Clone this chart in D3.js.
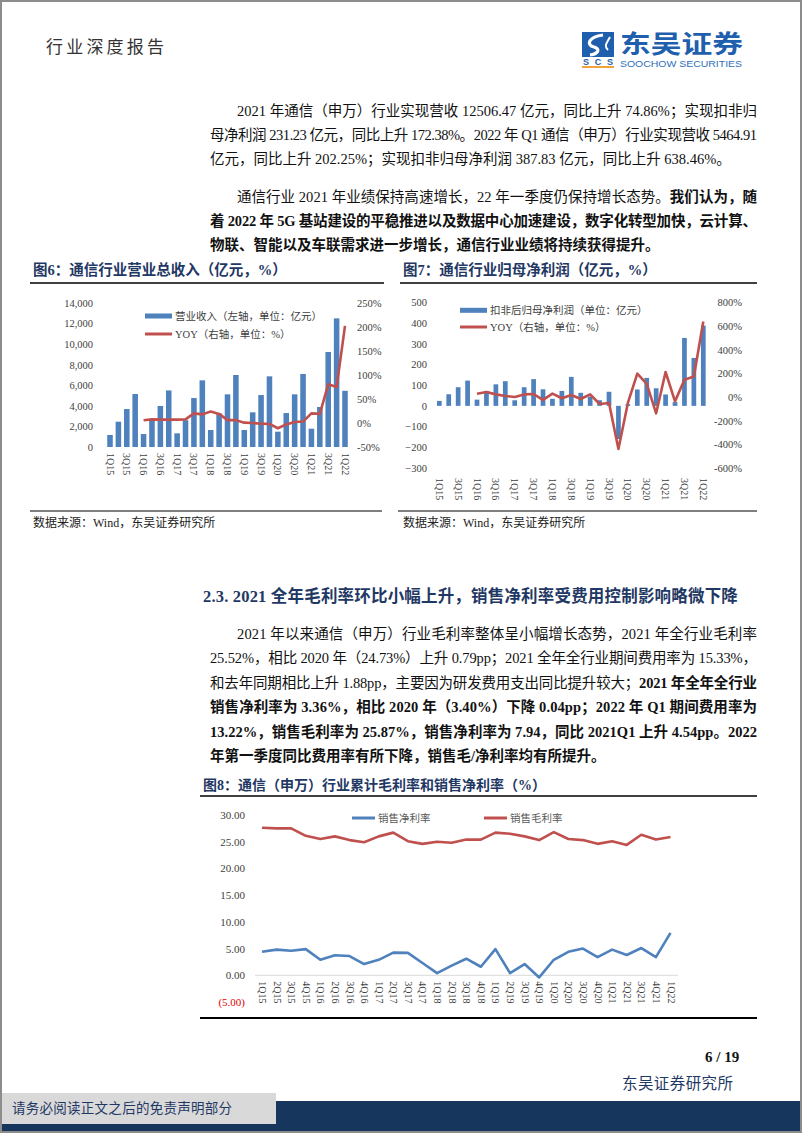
<!DOCTYPE html>
<html><head><meta charset="utf-8">
<script src="https://cdn.jsdelivr.net/npm/d3@7"></script>
<style>html,body{margin:0;padding:0;background:#fff}svg{display:block}</style>
</head><body>
<svg id="page" width="802" height="1133"></svg>
<script>
// ---------------- DATA ----------------
const quarters = ["1Q15","2Q15","3Q15","4Q15","1Q16","2Q16","3Q16","4Q16","1Q17","2Q17","3Q17","4Q17",
  "1Q18","2Q18","3Q18","4Q18","1Q19","2Q19","3Q19","4Q19","1Q20","2Q20","3Q20","4Q20",
  "1Q21","2Q21","3Q21","4Q21","1Q22"];
const sparseQuarterLabels = ["1Q15","3Q15","1Q16","3Q16","1Q17","3Q17","1Q18","3Q18","1Q19","3Q19","1Q20","3Q20","1Q21","3Q21","1Q22"];
// Fig 6: revenue (亿元) and YoY (%)
const revenue = [1170,2460,3690,5150,1260,2600,3990,5500,1330,2600,4760,6480,1650,3270,5120,7000,
  1650,3370,5050,6870,1490,3300,5120,7100,1780,3890,9240,12506.47,5464.91];
const revenueYoy = [null,null,null,null,5.6,7.6,7,7,7,7.6,20,18,24,19,6,6,0.7,0,-1.4,-2,-11,-3,2,3,20,19,80.5,74.86,202.25];
const fig6LeftTicks = [0,2000,4000,6000,8000,10000,12000,14000];
const fig6RightTicks = [-50,0,50,100,150,200,250];
// Fig 7: net profit (亿元) and YoY (%)
const profit = [24,56,90,122,30,72,104,119,27,90,129,80,34,72,140,63,45,27,68,-160,8,79,135,85,55,18,328,231.23,387.83];
const profitYoy = [null,null,null,null,28,42,22,8,0,22,25,-25,28,-11,17,-17,22,-59,-51,-439,-50,197,110,-138,211,-37,146,172.38,638.46];
const fig7LeftTicks = [-300,-200,-100,0,100,200,300,400,500];
const fig7RightTicks = [-600,-400,-200,0,200,400,600,800];
// Fig 8: margins (%)
const netMargin = [4.4,4.8,4.6,4.9,2.9,3.75,3.6,2.1,2.9,4.25,4.2,2.3,0.4,1.8,3.1,1.6,4.9,0.4,2.1,-0.4,2.9,4.4,5.0,3.4,4.8,3.8,5.1,3.4,7.94];
const grossMargin = [27.6,27.5,27.5,26.1,25.5,26.0,25.3,24.9,26.0,26.7,25.1,24.6,25.0,24.8,25.4,25.4,26.7,26.5,26.0,25.3,26.8,25.5,25.3,24.6,25.1,24.4,26.3,25.4,25.87];
const fig8Ticks = [-5,0,5,10,15,20,25,30];

// Text content
const para1 = [
  [["2021 年通信（申万）行业实现营收 12506.47 亿元，同比上升 74.86%；实现扣非归",0]],
  [["母净利润 231.23 亿元，同比上升 172.38%。2022 年 Q1 通信（申万）行业实现营收 5464.91",0]],
  [["亿元，同比上升 202.25%；实现扣非归母净利润 387.83 亿元，同比上升 638.46%。",0]]
];
const para2 = [
  [["通信行业 2021 年业绩保持高速增长，22 年一季度仍保持增长态势。",0],["我们认为，随",1]],
  [["着 2022 年 5G 基站建设的平稳推进以及数据中心加速建设，数字化转型加快，云计算、",1]],
  [["物联、智能以及车联需求进一步增长，通信行业业绩将持续获得提升。",1]]
];
const heading23 = "2.3.  2021 全年毛利率环比小幅上升，销售净利率受费用控制影响略微下降";
const para3 = [
  [["2021 年以来通信（申万）行业毛利率整体呈小幅增长态势，2021 年全行业毛利率",0]],
  [["25.52%，相比 2020 年（24.73%）上升 0.79pp；2021 全年全行业期间费用率为 15.33%，",0]],
  [["和去年同期相比上升 1.88pp，主要因为研发费用支出同比提升较大；",0],["2021 年全年全行业",1]],
  [["销售净利率为 3.36%，相比 2020 年（3.40%）下降 0.04pp；2022 年 Q1 期间费用率为",1]],
  [["13.22%，销售毛利率为 25.87%，销售净利率为 7.94，同比 2021Q1 上升 4.54pp。2022",1]],
  [["年第一季度同比费用率有所下降，销售毛/净利率均有所提升。",1]]
];

// ---------------- DRAW ----------------
const FONT = "'Liberation Serif','Noto Sans CJK SC',serif";
const NAVY = "#1f3864";
const BLUE = "#4f81bd";
const RED = "#c0504d";
const AXIS = "#404040";
const svg = d3.select("#page");

function textLine(x, y, segs, o) {
  const t = svg.append("text").attr("x", x).attr("y", y).attr("dy", "0.35em")
    .attr("font-family", o.family || FONT).attr("font-size", o.size)
    .attr("fill", o.color || "#111");
  segs.forEach(s => t.append("tspan").text(s[0]).attr("font-weight", s[1] ? "bold" : null));
  if (o.right) {
    const w = t.node().getComputedTextLength();
    const n = segs.map(s => s[0]).join("").length;
    t.style("letter-spacing", ((o.right - x - w) / (n - 1)) + "px");
  }
  if (o.bold) t.attr("font-weight", "bold");
  return t;
}
function hline(x1, x2, y, w, c) {
  svg.append("line").attr("x1", x1).attr("x2", x2).attr("y1", y).attr("y2", y)
    .attr("stroke", c || "#000").attr("stroke-width", w);
}

// Header
textLine(46, 47, [["行业深度报告",0]], {size: 17, right: 164, color: "#333"});
// Logo
const logo = svg.append("g");
logo.append("rect").attr("x", 582).attr("y", 32).attr("width", 32).attr("height", 25).attr("fill", "#1f5fae");
logo.append("path").attr("d", "M603,35 C588,37 586,45 594,47 C601,49 598,54 590,55")
  .attr("fill", "none").attr("stroke", "#fff").attr("stroke-width", 3.2);
logo.append("path").attr("d", "M610,37 C606,44 604,46 608,50")
  .attr("fill", "none").attr("stroke", "#fff").attr("stroke-width", 2);
logo.append("text").attr("x", 598).attr("y", 64.5).attr("text-anchor", "middle")
  .attr("font-family", "'Liberation Sans',sans-serif").attr("font-weight", "bold").attr("font-size", 9)
  .attr("fill", "#1f5fae").attr("textLength", 30).text("SCS");
logo.append("rect").attr("x", 582).attr("y", 66).attr("width", 32).attr("height", 2).attr("fill", "#f2a43a");
logo.append("text").attr("x", 620).attr("y", 53).attr("font-family", "'Noto Sans CJK SC',sans-serif")
  .attr("font-weight", "bold").attr("font-size", 25).attr("fill", "#1f5fae")
  .attr("textLength", 123).attr("lengthAdjust", "spacingAndGlyphs").text("东吴证券");
logo.append("text").attr("x", 620).attr("y", 67).attr("font-family", "'Liberation Sans',sans-serif")
  .attr("font-size", 9.5).attr("fill", "#2f6fba")
  .attr("textLength", 122).attr("lengthAdjust", "spacingAndGlyphs").text("SOOCHOW SECURITIES");

// Paragraphs
const BODY = 14.5, RIGHT = 757;
function paragraph(lines, y0, dy) {
  lines.forEach((segs, i) => {
    const x = i === 0 ? 237 : 210;
    const last = i === lines.length - 1;
    textLine(x, y0 + i * dy, segs, {size: BODY, right: last ? null : RIGHT});
  });
}
paragraph(para1, 111, 24);
paragraph(para2, 197, 24);
textLine(203, 596, [[heading23,1]], {size: 16.5, right: 738, color: NAVY});
paragraph(para3, 634, 24.4);

// Figure titles
textLine(33, 270, [["图6：通信行业营业总收入（亿元，%）",1]], {size: 14.5, color: NAVY});
textLine(403, 270, [["图7：通信行业归母净利润（亿元，%）",1]], {size: 14.5, color: NAVY});
hline(30, 384, 283, 1.5);
hline(400, 757, 283, 1.5);
hline(30, 382, 511, 1.2);
hline(398, 757, 511, 1.2);
textLine(33, 523, [["数据来源：Wind，东吴证券研究所",0]], {size: 12, color: "#222"});
textLine(403, 523, [["数据来源：Wind，东吴证券研究所",0]], {size: 12, color: "#222"});

function styleAxis(g, size) {
  g.attr("font-family", FONT).attr("font-size", size).attr("color", AXIS);
  g.select(".domain").remove();
  g.selectAll("line").remove();
}
function rotateTicks(g, off) {
  g.selectAll("text").attr("y", 0).attr("x", off).attr("dy", "0.35em")
    .attr("transform", "rotate(90)").attr("text-anchor", "start");
}

// ---- Figure 6 ----
{
  const y0 = 447, y1 = 303;
  const yL = d3.scaleLinear().domain([0, 14000]).range([y0, y1]);
  const yR = d3.scaleLinear().domain([-50, 250]).range([y0, y1]);
  const step = (345 - 110) / 28;
  const x = d3.scaleBand().domain(quarters).range([110 - step / 2, 345 + step / 2]).paddingInner(0.34).paddingOuter(0.17);
  const cx = q => x(q) + x.bandwidth() / 2;
  svg.append("g").selectAll("rect").data(revenue).join("rect")
    .attr("x", (d, i) => x(quarters[i])).attr("width", x.bandwidth())
    .attr("y", d => yL(d)).attr("height", d => yL(0) - yL(d)).attr("fill", BLUE);
  const ln = d3.line().defined(d => d.v != null).x(d => cx(d.q)).y(d => yR(d.v));
  svg.append("path").datum(quarters.map((q, i) => ({q, v: revenueYoy[i]})))
    .attr("d", ln).attr("fill", "none").attr("stroke", RED).attr("stroke-width", 2.6).attr("stroke-linejoin", "round");
  const gl = svg.append("g").attr("transform", "translate(95,0)")
    .call(d3.axisLeft(yL).tickValues(fig6LeftTicks).tickSize(0).tickPadding(2).tickFormat(d3.format(",")));
  styleAxis(gl, 10.5);
  const gr = svg.append("g").attr("transform", "translate(357,0)")
    .call(d3.axisRight(yR).tickValues(fig6RightTicks).tickSize(0).tickPadding(0).tickFormat(d => d + "%"));
  styleAxis(gr, 10.5);
  const gx = svg.append("g").attr("transform", `translate(0,${y0})`)
    .call(d3.axisBottom(x).tickValues(sparseQuarterLabels).tickSize(0));
  styleAxis(gx, 10);
  rotateTicks(gx, 6);
  // legend
  svg.append("rect").attr("x", 145).attr("y", 313.5).attr("width", 27).attr("height", 5).attr("fill", BLUE);
  textLine(175, 316, [["营业收入（左轴，单位：亿元）",0]], {size: 10.5, color: AXIS});
  hline(145, 172, 334, 3, RED);
  textLine(175, 334, [["YOY（右轴，单位：%）",0]], {size: 10.5, color: AXIS});
}

// ---- Figure 7 ----
{
  const yL = d3.scaleLinear().domain([-300, 500]).range([468, 302.3]);
  const yR = d3.scaleLinear().domain([-600, 800]).range([468, 302.3]);
  const a = 439.3, b = 703.3, step = (b - a) / 28;
  const x = d3.scaleBand().domain(quarters).range([a - step / 2, b + step / 2]).paddingInner(0.5).paddingOuter(0.25);
  const cx = q => x(q) + x.bandwidth() / 2;
  svg.append("g").selectAll("rect").data(profit).join("rect")
    .attr("x", (d, i) => x(quarters[i])).attr("width", x.bandwidth())
    .attr("y", d => yL(Math.max(0, d))).attr("height", d => Math.abs(yL(d) - yL(0))).attr("fill", BLUE);
  const ln = d3.line().defined(d => d.v != null).x(d => cx(d.q)).y(d => yR(d.v));
  svg.append("path").datum(quarters.map((q, i) => ({q, v: profitYoy[i]})))
    .attr("d", ln).attr("fill", "none").attr("stroke", RED).attr("stroke-width", 2.6).attr("stroke-linejoin", "round");
  const gl = svg.append("g").attr("transform", "translate(429,0)")
    .call(d3.axisLeft(yL).tickValues(fig7LeftTicks).tickSize(0).tickPadding(2));
  styleAxis(gl, 10.5);
  const gr = svg.append("g").attr("transform", "translate(742,0)")
    .call(d3.axisLeft(yR).tickValues(fig7RightTicks).tickSize(0).tickPadding(0).tickFormat(d => d + "%"));
  styleAxis(gr, 10.5);
  const gx = svg.append("g").attr("transform", `translate(0,${yL(-300)})`)
    .call(d3.axisBottom(x).tickValues(sparseQuarterLabels).tickSize(0));
  styleAxis(gx, 10);
  rotateTicks(gx, 10);
  svg.append("rect").attr("x", 460).attr("y", 307.8).attr("width", 27).attr("height", 5).attr("fill", BLUE);
  textLine(490, 310.3, [["扣非后归母净利润（单位：亿元）",0]], {size: 10.5, color: AXIS});
  hline(460, 487, 327, 3, RED);
  textLine(490, 327, [["YOY（右轴，单位：%）",0]], {size: 10.5, color: AXIS});
}

// ---- Figure 8 ----
textLine(203, 785, [["图8：通信（申万）行业累计毛利率和销售净利率（%）",1]], {size: 14, color: NAVY});
hline(200, 757, 796, 1.5);
hline(200, 757, 1018, 2.2);
{
  const y = d3.scaleLinear().domain([-5, 30]).range([1002, 815]);
  const x = d3.scalePoint().domain(quarters).range([262, 670.5]);
  svg.append("line").attr("x1", 255).attr("x2", 678).attr("y1", y(0)).attr("y2", y(0))
    .attr("stroke", "#d9d9d9").attr("stroke-width", 1);
  const ln = d3.line().x((d, i) => x(quarters[i])).y(d => y(d));
  svg.append("path").datum(grossMargin).attr("d", ln).attr("fill", "none")
    .attr("stroke", RED).attr("stroke-width", 2.6).attr("stroke-linejoin", "round");
  svg.append("path").datum(netMargin).attr("d", ln).attr("fill", "none")
    .attr("stroke", BLUE).attr("stroke-width", 2.6).attr("stroke-linejoin", "round");
  const gl = svg.append("g").attr("transform", "translate(247,0)")
    .call(d3.axisLeft(y).tickValues(fig8Ticks).tickSize(0).tickPadding(2)
      .tickFormat(d => d < 0 ? "(" + d3.format(".2f")(-d) + ")" : d3.format(".2f")(d)));
  styleAxis(gl, 11);
  gl.selectAll("text").filter(d => d < 0).attr("fill", "#e00000");
  const gx = svg.append("g").attr("transform", `translate(0,${y(0)})`)
    .call(d3.axisBottom(x).tickSize(0));
  styleAxis(gx, 10);
  rotateTicks(gx, 6);
  hline(352, 375, 818, 3, BLUE);
  textLine(378, 818, [["销售净利率",0]], {size: 10.5, color: "#595959"});
  hline(484, 507, 818, 3, RED);
  textLine(510, 818, [["销售毛利率",0]], {size: 10.5, color: "#595959"});
}

// Footer
textLine(705, 1057, [["6 / 19",1]], {size: 15, color: "#111"});
textLine(622, 1084, [["东吴证券研究所",0]], {size: 15.5, right: 733, color: NAVY});
svg.append("rect").attr("x", 0).attr("y", 1101).attr("width", 802).attr("height", 32).attr("fill", "#17365d");
svg.append("rect").attr("x", 0).attr("y", 1093).attr("width", 276).attr("height", 31).attr("fill", "#d9d9d9");
textLine(12, 1108.5, [["请务必阅读正文之后的免责声明部分",0]], {size: 13.5, right: 232, color: NAVY});
// page frame
svg.append("rect").attr("x", 1).attr("y", 1).attr("width", 800).attr("height", 1131)
  .attr("fill", "none").attr("stroke", "#8c8c8c").attr("stroke-width", 2);
</script>
</body></html>
